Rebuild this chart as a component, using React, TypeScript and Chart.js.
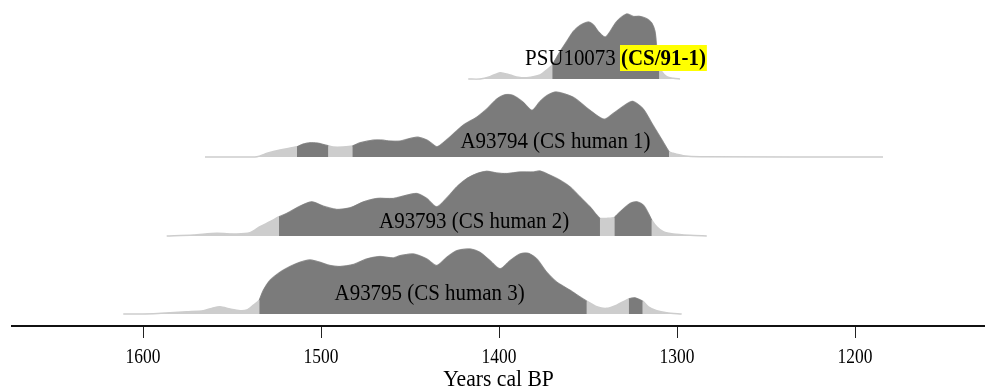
import React, { useEffect, useRef } from "react";
import { Chart, registerables } from "chart.js";

Chart.register(...registerables);

// ---- Data (years cal BP, relative probability) ----
const SAMPLE_NAMES = ["PSU10073", "A93794 (CS human 1)", "A93793 (CS human 2)", "A93795 (CS human 3)"];
const SAMPLE_HIGHLIGHT = ["(CS/91-1)", "", "", ""];

const YEARS_PSU10073 = [1417.3, 1410.7, 1405.1, 1399.4, 1393.8, 1389.2, 1384.4, 1377, 1373.2, 1370.1, 1365.7, 1362, 1358.3, 1354.5, 1349.8, 1347, 1344.2, 1340.4, 1337.6, 1333.9, 1328.3, 1324.6, 1320.8, 1317, 1314.2, 1312.4, 1311.4, 1310, 1308.6, 1305.8, 1302.1, 1298.3];
const PROB_PSU10073 = [0, 0, 2.3, 6.3, 4, 1.7, 1.3, 4, 9, 14, 27.3, 37.3, 47.3, 53.3, 56.7, 54, 47.3, 41.7, 47.3, 57.3, 64.7, 62.3, 62.3, 60, 55.7, 47.3, 30.7, 13, 7.3, 2.3, 0.7, 0];
const HPD_PSU10073 = [[1370.1, 1310]];

const YEARS_A93794 = [1565.2, 1549.4, 1536, 1530.3, 1523, 1513.5, 1510.1, 1506.2, 1502.2, 1498.9, 1495.9, 1493.3, 1487.6, 1482.4, 1478.1, 1470.8, 1465.2, 1461.2, 1455.6, 1450, 1445.5, 1440.4, 1437.1, 1435, 1433, 1427.5, 1420.2, 1412.4, 1406.7, 1401.1, 1396.6, 1392.1, 1386.5, 1381.5, 1377, 1373, 1368, 1358.4, 1348.9, 1341, 1336, 1328.1, 1324.7, 1319.1, 1313.5, 1308.4, 1304.5, 1302.2, 1296.6, 1287, 1184.3];
const PROB_A93794 = [0, 0, 0.3, 3.7, 7, 10.3, 13, 14.3, 14, 12.7, 11.3, 10, 10, 11, 14.3, 17, 17, 16, 16, 18.7, 20, 17, 12.7, 10.3, 12, 20.3, 32, 40.3, 48.7, 58.7, 62.7, 62, 55.3, 47, 56, 62, 65.5, 60.3, 47, 38, 43.7, 53.7, 56, 48.7, 32, 17, 5.3, 3.7, 1.3, 0.3, 0];
const HPD_A93794 = [[1513.5, 1495.9], [1482.4, 1435], [1433, 1304.5]];

const YEARS_A93793 = [1586.7, 1571.7, 1558.6, 1547.4, 1539.9, 1534.3, 1528.7, 1523.6, 1519.3, 1511.8, 1505.2, 1498.7, 1491.2, 1483.7, 1476.2, 1468.7, 1459.4, 1451.9, 1446.2, 1440.6, 1435, 1428.8, 1423.8, 1418.1, 1412.5, 1406.9, 1401.3, 1395.7, 1388.2, 1380.7, 1377, 1371.3, 1365.7, 1360.1, 1354.5, 1348.9, 1345.1, 1343.3, 1339.5, 1335.2, 1332, 1326.4, 1322.6, 1318.9, 1316.1, 1314.2, 1311.4, 1307.7, 1302.1, 1292.7, 1283.3];
const PROB_A93793 = [0, 1, 2.7, 2, 3.3, 9.3, 14.3, 19.3, 22.7, 30, 34.3, 30, 26.7, 28.3, 34.3, 37.7, 37.7, 41, 42.7, 37.7, 29.3, 39.3, 49.3, 57.7, 62.7, 65, 63.3, 62.7, 64.3, 64.3, 65.3, 61, 56, 49.3, 39.3, 29.3, 21, 17.7, 17.7, 18.7, 24.3, 32.7, 34.3, 31, 22.7, 16, 9.3, 4.3, 2, 0.7, 0];
const HPD_A93793 = [[1523.6, 1343.3], [1335.2, 1314.2]];

const YEARS_A93795 = [1611.1, 1594.2, 1584.8, 1575.4, 1566.1, 1561.4, 1556.7, 1551.1, 1545.5, 1541.7, 1538, 1534.7, 1532.4, 1528.7, 1523, 1517.4, 1511.8, 1506.2, 1500.6, 1494.9, 1489.3, 1481.9, 1474.3, 1466.9, 1459.4, 1455.6, 1448.1, 1440.6, 1435, 1429.4, 1423.8, 1416.3, 1410.7, 1405.1, 1399.4, 1393.8, 1388.2, 1383.5, 1378.8, 1373.2, 1367.6, 1360.1, 1354.5, 1350.7, 1345.1, 1339.5, 1333.9, 1327.1, 1323.6, 1319.3, 1316.1, 1311.4, 1305.8, 1297.4];
const PROB_A93795 = [0, 0.3, 1.3, 2.3, 3.3, 5.7, 7.3, 5, 3.3, 4, 9, 14, 24, 34, 42.3, 48, 52.3, 54.7, 52.3, 49, 48, 50, 55.7, 58, 56.7, 59, 60.7, 55.7, 49, 57.3, 64, 65.7, 62.3, 54, 45.7, 54, 60.7, 61.3, 55.7, 42.3, 32.3, 24, 17.3, 13, 7.3, 5.7, 9, 15.3, 16.3, 13, 7.3, 3.3, 1.3, 0];
const HPD_A93795 = [[1534.7, 1350.7], [1327.1, 1319.3]];

const X_TICKS = [1600, 1500, 1400, 1300, 1200];
const X_TITLE = "Years cal BP";

// ---- Layout / style ----
const W = 985;
const H = 389;
const X_MIN = 1127;
const X_MAX = 1673.6;
const Y_MAX = 326;
const ROW_BASE = [247, 169, 90, 12];
const ROW_PEAK = 65;
const LABEL_YEAR = [1334.6, 1368.3, 1414, 1439];
const LABEL_Y = [261, 178, 98, 26];
const LABEL_SIZE = 23;
const LABEL_SX = 0.91;
const TICK_SIZE = 21;
const TICK_SX = 0.83;
const TICK_BASELINE = 363;
const TITLE_SIZE = 23;
const TITLE_SX = 0.94;
const TITLE_BASELINE = 386;
const FONT = '"Liberation Serif", "Times New Roman", serif';
const DARK = "#7b7b7b";
const LIGHT = "#cdcdcd";

const SAMPLES = [
  { years: YEARS_PSU10073, prob: PROB_PSU10073, hpd: HPD_PSU10073 },
  { years: YEARS_A93794, prob: PROB_A93794, hpd: HPD_A93794 },
  { years: YEARS_A93793, prob: PROB_A93793, hpd: HPD_A93793 },
  { years: YEARS_A93795, prob: PROB_A93795, hpd: HPD_A93795 },
];

function drawSqueezed(ctx: CanvasRenderingContext2D, text: string, x: number, y: number, sx: number) {
  ctx.save();
  ctx.translate(x, y);
  ctx.scale(sx, 1);
  ctx.fillText(text, 0, 0);
  ctx.restore();
}

const textPlugin = {
  id: "texts",
  afterDraw(chart: any) {
    const ctx = chart.ctx as CanvasRenderingContext2D;
    const xs = chart.scales.x;
    const ys = chart.scales.y;
    ctx.save();
    ctx.textBaseline = "alphabetic";
    // sample labels
    ctx.textAlign = "left";
    SAMPLE_NAMES.forEach((name, i) => {
      const hl = SAMPLE_HIGHLIGHT[i];
      const normalFont = `${LABEL_SIZE}px ${FONT}`;
      const boldFont = `bold ${LABEL_SIZE}px ${FONT}`;
      const first = hl ? name + " " : name;
      ctx.font = normalFont;
      const w1 = ctx.measureText(first).width * LABEL_SX;
      ctx.font = boldFont;
      const w2 = hl ? ctx.measureText(hl).width * LABEL_SX : 0;
      const cx = xs.getPixelForValue(LABEL_YEAR[i]);
      const by = ys.getPixelForValue(LABEL_Y[i]);
      const x0 = cx - (w1 + w2) / 2;
      if (hl) {
        ctx.fillStyle = "#ffff00";
        ctx.fillRect(x0 + w1 - 1, by - 20, w2 + 2, 26);
      }
      ctx.fillStyle = "#000";
      ctx.font = normalFont;
      drawSqueezed(ctx, first, x0, by, LABEL_SX);
      if (hl) {
        ctx.font = boldFont;
        drawSqueezed(ctx, hl, x0 + w1, by, LABEL_SX);
      }
    });
    // tick labels
    ctx.textAlign = "center";
    ctx.fillStyle = "#000";
    ctx.font = `${TICK_SIZE}px ${FONT}`;
    X_TICKS.forEach((v) => {
      drawSqueezed(ctx, String(v), xs.getPixelForValue(v), TICK_BASELINE, TICK_SX);
    });
    // axis title
    ctx.font = `${TITLE_SIZE}px ${FONT}`;
    drawSqueezed(ctx, X_TITLE, (chart.chartArea.left + chart.chartArea.right) / 2, TITLE_BASELINE, TITLE_SX);
    ctx.restore();
  },
};

export default function App() {
  const ref = useRef<HTMLCanvasElement | null>(null);

  useEffect(() => {
    document.body.style.margin = "0";
    const canvas = ref.current;
    if (!canvas) return;

    const datasets: any[] = [];
    SAMPLES.forEach((s, i) => {
      const base = ROW_BASE[i];
      const maxP = Math.max(...s.prob);
      const k = ROW_PEAK / maxP;
      const inHpd = (y: number) => s.hpd.some(([a, b]) => y <= a + 1e-6 && y >= b - 1e-6);
      const light = s.years.map((yr, j) => ({ x: yr, y: base + s.prob[j] * k }));
      const dark = s.years.map((yr, j) => ({ x: yr, y: inHpd(yr) ? base + s.prob[j] * k : null }));
      datasets.push({
        data: dark,
        borderColor: DARK,
        backgroundColor: DARK,
        borderWidth: 0.8,
        pointRadius: 0,
        tension: 0.25,
        spanGaps: false,
        fill: { value: base },
        order: 0,
      });
      datasets.push({
        data: light,
        borderColor: LIGHT,
        backgroundColor: LIGHT,
        borderWidth: 1.5,
        pointRadius: 0,
        tension: 0.25,
        fill: { value: base },
        order: 1,
      });
    });

    const chart = new Chart(canvas, {
      type: "line",
      data: { datasets },
      options: {
        animation: false,
        responsive: false,
        maintainAspectRatio: false,
        layout: { padding: { left: 12, right: 0, top: 0, bottom: 0 } },
        plugins: { legend: { display: false }, tooltip: { enabled: false } },
        events: [],
        scales: {
          x: {
            type: "linear",
            reverse: true,
            min: X_MIN,
            max: X_MAX,
            afterBuildTicks: (scale: any) => {
              scale.ticks = X_TICKS.map((v) => ({ value: v }));
            },
            afterFit: (scale: any) => {
              scale.height = H - Y_MAX;
            },
            grid: { display: true, drawOnChartArea: false, drawTicks: true, tickLength: 12, color: "#222", lineWidth: 1 },
            border: { display: true, color: "#111", width: 2 },
            ticks: { display: false },
            title: { display: false },
          },
          y: { type: "linear", display: false, min: 0, max: Y_MAX },
        },
      },
      plugins: [textPlugin],
    });
    return () => chart.destroy();
  }, []);

  return (
    <div style={{ width: W, height: H }}>
      <canvas ref={ref} width={W} height={H} style={{ display: "block", width: W, height: H }} />
    </div>
  );
}
